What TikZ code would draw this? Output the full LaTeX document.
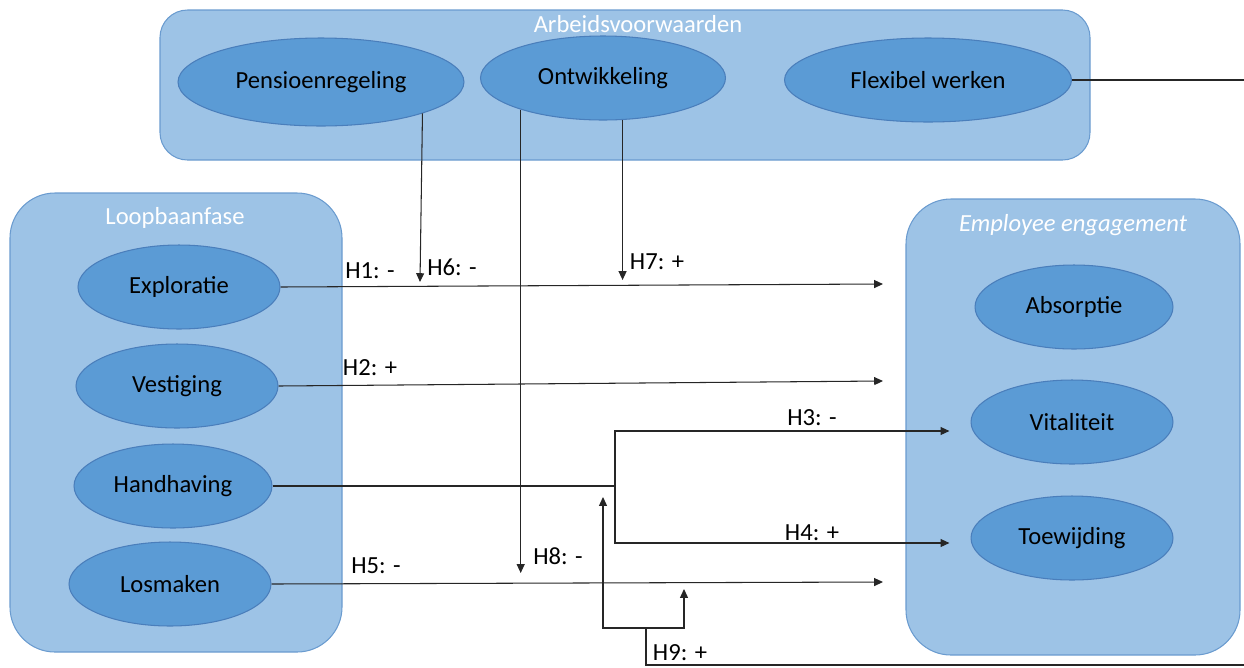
\documentclass[tikz,border=0pt]{standalone}
\usepackage{fontspec}
\setmainfont{Carlito}
\usetikzlibrary{shapes.geometric,arrows.meta}

\definecolor{boxblue}{HTML}{9DC3E6}
\definecolor{boxline}{HTML}{6A9BCF}
\definecolor{ellblue}{HTML}{5B9BD5}
\definecolor{ellline}{HTML}{4A7EBB}
\definecolor{wire}{HTML}{262626}

\tikzset{
  group/.style={fill=boxblue, draw=boxline, line width=0.6pt},
  grouptitle/.style={text=white, font=\fontsize{14}{17}\selectfont},
  factor/.style={ellipse, fill=ellblue, draw=ellline, line width=0.6pt, inner sep=0pt,
    minimum width=4.04cm, minimum height=1.68cm, font=\fontsize{14}{17}\selectfont},
  hyp/.style={font=\fontsize{14}{17}\selectfont},
  wireline/.style={draw=wire, line width=0.6pt},
  arr/.style={wireline, -{Triangle[length=5pt,width=4.5pt]}}
}

\begin{document}
\begin{tikzpicture}[x=0.02cm, y=-0.02cm]
\useasboundingbox (0,0) rectangle (1244,667);
% groups
\path[group, rounded corners=0.55cm] (160,10) rectangle (1090,160);
\path[group, rounded corners=0.9cm] (10,193) rectangle (342,652);
\path[group, rounded corners=0.9cm] (906,199) rectangle (1240,655);
\node[grouptitle] (tArbeid) at (638,24) {Arbeidsvoorwaarden};
\node[grouptitle] (tLoop) at (175,218) {Loopbaanfase};
\node[grouptitle] (tEng) at (1073,225) {\itshape Employee engagement};
% arbeidsvoorwaarden
\node[factor, minimum width=5.72cm, minimum height=1.76cm] (pens) at (321,82) {Pensioenregeling};
\node[factor, minimum width=4.9cm] (ontw) at (603,78) {Ontwikkeling};
\node[factor, minimum width=5.74cm] (flex) at (928,80) {Flexibel werken};
% loopbaanfase
\node[factor] (expl) at (179,287) {Exploratie};
\node[factor] (vest) at (177,386) {Vestiging};
\node[factor, minimum width=3.96cm] (handh) at (173,486) {Handhaving};
\node[factor] (losm) at (170,584) {Losmaken};
% engagement
\node[factor, minimum width=3.96cm] (absorp) at (1074,307) {Absorptie};
\node[factor] (vital) at (1072,422) {Vitaliteit};
\node[factor] (toew) at (1072,538) {Toewijding};
% ends of the arrows
\coordinate (e1) at (883,284);
\coordinate (e2) at (883,381);
\coordinate (e5) at (883,582);
\coordinate (split) at (615,486);
\coordinate (out) at (1244,80);
\coordinate (back) at (1244,665);
% hypotheses
\draw[arr] (expl.east) -- (e1);
\draw[arr] (vest.east) -- (e2);
\draw[wireline] (handh.east) -- (split);
\draw[arr] (split) |- ([xshift=-12]vital.west |- 0,431);
\draw[arr] (split) |- ([xshift=-12]toew.west |- 0,543);
\draw[arr] (losm.east) -- (e5);
\draw[arr] (pens.south east) -- (420,282);
\draw[arr] (ontw.295) -- (ontw.295 |- 0,280);
\draw[arr] (ontw.201) -- (ontw.201 |- 0,573);
\draw[wireline] (flex.east) -- (out);
\draw[wireline] (back) -| (646,628);
\draw[arr] (646,628) -| (603,497);
\draw[arr] (646,628) -| (684,589);
\node[hyp] (h1) at (370,271) {H1: -};
\node[hyp] (h2) at (370,368) {H2: +};
\node[hyp] (h3) at (812,418) {H3: -};
\node[hyp] (h4) at (812,533) {H4: +};
\node[hyp] (h5) at (376,566) {H5: -};
\node[hyp] (h6) at (452,267) {H6: -};
\node[hyp] (h7) at (657,262) {H7: +};
\node[hyp] (h8) at (558,556) {H8: -};
\node[hyp] (h9) at (680,653) {H9: +};
\end{tikzpicture}
\end{document}
